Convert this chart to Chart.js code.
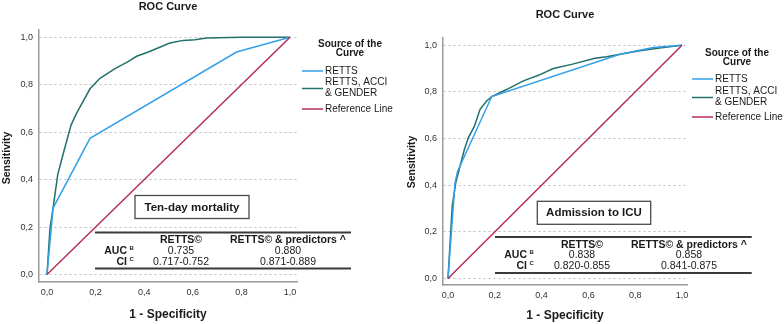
<!DOCTYPE html>
<html><head><meta charset="utf-8">
<script src="https://cdn.jsdelivr.net/npm/chart.js@4/dist/chart.umd.min.js"></script>
<style>
html,body{margin:0;padding:0;background:#fff;width:784px;height:324px;overflow:hidden;}
#wrap{position:relative;width:784px;height:324px;}
canvas{position:absolute;top:0;}
</style></head><body>
<div id="wrap">
<canvas id="c1" width="400" height="324" style="left:0;width:400px;height:324px"></canvas>
<canvas id="c2" width="384" height="324" style="left:400px;width:384px;height:324px"></canvas>
</div>
<script>
// ---- data ----
const tickValues = [0, 0.2, 0.4, 0.6, 0.8, 1.0];
const tickLabels = ['0,0', '0,2', '0,4', '0,6', '0,8', '1,0'];
const seriesNames = ['RETTS', 'RETTS, ACCI & GENDER', 'Reference Line'];
const legendLines = [['RETTS'], ['RETTS, ACCI', '& GENDER'], ['Reference Line']];
const chartTitle = 'ROC Curve';
const xAxisTitle = '1 - Specificity';
const yAxisTitle = 'Sensitivity';
const legendTitle = ['Source of the', 'Curve'];
const panelNames = ['Ten-day mortality', 'Admission to ICU'];
const tableHeader = ['RETTS©', 'RETTS© & predictors ^'];
const tableRowLabels = ['AUC', 'CI'];
const tableRowSup = ['B', 'C'];

const referenceX = [0, 1];
const referenceY = [0, 1];

// Ten-day mortality
const mortalityRettsX = [0, 0.025, 0.177, 0.78, 1];
const mortalityRettsY = [0, 0.28, 0.574, 0.938, 1];
const mortalityCombX = [0, 0.012, 0.026, 0.044, 0.067, 0.099, 0.122, 0.177, 0.218, 0.28, 0.33, 0.369, 0.417, 0.506, 0.56, 0.609, 0.657, 0.8, 1];
const mortalityCombY = [0, 0.19, 0.287, 0.42, 0.51, 0.63, 0.68, 0.783, 0.827, 0.868, 0.895, 0.92, 0.938, 0.976, 0.987, 0.99, 0.997, 1.0, 1];
const mortalityAuc = ['0.735', '0.880'];
const mortalityCi = ['0.717-0.752', '0.871-0.889'];

// Admission to ICU
const icuRettsX = [0, 0.016, 0.03, 0.041, 0.187, 0.735, 0.877, 1];
const icuRettsY = [0, 0.22, 0.41, 0.46, 0.78, 0.961, 0.99, 1];
const icuCombX = [0, 0.018, 0.033, 0.051, 0.07, 0.087, 0.112, 0.137, 0.165, 0.187, 0.25, 0.322, 0.386, 0.45, 0.528, 0.628, 0.678, 0.735, 0.82, 0.92, 1];
const icuCombY = [0, 0.31, 0.41, 0.48, 0.553, 0.604, 0.651, 0.725, 0.761, 0.78, 0.81, 0.847, 0.871, 0.9, 0.918, 0.944, 0.951, 0.961, 0.976, 0.99, 1];
const icuAuc = ['0.838', '0.858'];
const icuCi = ['0.820-0.855', '0.841-0.875'];

// ---- styles ----
const FONT = "'Liberation Sans', Arial, Helvetica, sans-serif";
const BLUE = '#34a0ea';
const GREEN = '#22706a';
const RED = '#b52c5e';
const TEXT = '#1a1a1a';

function pts(xs, ys) { return xs.map((x, i) => ({ x: x, y: ys[i] })); }

function annotPlugin(L) {
  return {
    id: 'annot',
    afterDraw(chart) {
      const ctx = chart.ctx;
      const ca = chart.chartArea;
      ctx.save();
      ctx.fillStyle = TEXT;
      ctx.textBaseline = 'middle';
      ctx.textAlign = 'center';
      ctx.font = 'bold 11px ' + FONT;
      ctx.fillText(chartTitle, (ca.left + ca.right) / 2, L.titleY);
      ctx.font = 'bold 12px ' + FONT;
      ctx.fillText(xAxisTitle, (ca.left + ca.right) / 2, L.xTitleY);
      ctx.save();
      ctx.translate(L.yTitleX, L.yTitleY);
      ctx.rotate(-Math.PI / 2);
      ctx.font = 'bold 10.5px ' + FONT;
      ctx.fillText(yAxisTitle, 0, 0);
      ctx.restore();
      // legend
      const lg = L.legend;
      ctx.font = 'bold 10px ' + FONT;
      ctx.textAlign = 'center';
      ctx.fillText(legendTitle[0], lg.titleX, lg.titleY[0]);
      ctx.fillText(legendTitle[1], lg.titleX, lg.titleY[1]);
      const colors = [BLUE, GREEN, RED];
      ctx.font = '10px ' + FONT;
      ctx.textAlign = 'left';
      legendLines.forEach((lines, i) => {
        ctx.strokeStyle = colors[i];
        ctx.lineWidth = 1.5;
        ctx.beginPath();
        ctx.moveTo(lg.x1, lg.lineY[i]);
        ctx.lineTo(lg.x2, lg.lineY[i]);
        ctx.stroke();
        lines.forEach((t, j) => {
          ctx.fillText(t, lg.x2 + 2, lg.textY[i][j]);
        });
      });
      // box
      const b = L.box;
      ctx.fillStyle = '#fff';
      ctx.fillRect(b.x, b.y, b.w, b.h);
      ctx.strokeStyle = '#4a4a4a';
      ctx.lineWidth = 1.3;
      ctx.strokeRect(b.x, b.y, b.w, b.h);
      ctx.fillStyle = TEXT;
      ctx.font = 'bold 11.5px ' + FONT;
      ctx.textAlign = 'center';
      ctx.fillText(L.panel, b.x + b.w / 2, b.y + b.h / 2 + 0.5);
      // table
      const t = L.table;
      ctx.strokeStyle = '#3a3a3a';
      ctx.lineWidth = 1.8;
      ctx.beginPath();
      ctx.moveTo(t.x1, t.top); ctx.lineTo(t.x2, t.top);
      ctx.moveTo(t.x1, t.bottom); ctx.lineTo(t.x2, t.bottom);
      ctx.stroke();
      ctx.font = 'bold 10.5px ' + FONT;
      ctx.textAlign = 'center';
      ctx.fillText(tableHeader[0], t.col[0], t.rowY[0]);
      ctx.fillText(tableHeader[1], t.col[1], t.rowY[0]);
      const rows = [L.auc, L.ci];
      rows.forEach((r, i) => {
        const y = t.rowY[i + 1];
        ctx.font = 'bold 10.5px ' + FONT;
        ctx.textAlign = 'right';
        ctx.fillText(tableRowLabels[i], t.labelRight, y);
        ctx.font = 'bold 6px ' + FONT;
        ctx.textAlign = 'left';
        ctx.fillText(tableRowSup[i], t.labelRight + 2.5, y - 3);
        ctx.font = '10.5px ' + FONT;
        ctx.textAlign = 'center';
        ctx.fillText(r[0], t.col[0], y);
        ctx.fillText(r[1], t.col[1], y);
      });
      ctx.restore();
    }
  };
}

function makeChart(id, S, L) {
  const ctx = document.getElementById(id).getContext('2d');
  return new Chart(ctx, {
    type: 'scatter',
    data: {
      datasets: [
        { label: seriesNames[2], data: pts(referenceX, referenceY), borderColor: RED, showLine: true },
        { label: seriesNames[0], data: pts(S.rettsX, S.rettsY), borderColor: BLUE, showLine: true },
        { label: seriesNames[1], data: pts(S.combX, S.combY), borderColor: GREEN, showLine: true }
      ]
    },
    options: {
      responsive: false,
      animation: false,
      events: [],
      layout: { padding: L.padding },
      elements: { point: { radius: 0 }, line: { tension: 0, borderWidth: 1.5, fill: false } },
      plugins: { legend: { display: false }, tooltip: { enabled: false }, title: { display: false } },
      scales: {
        x: {
          type: 'linear', min: L.xMin, max: L.xMax,
          afterBuildTicks: s => { s.ticks = tickValues.map(v => ({ value: v })); },
          afterFit: s => { s.height = L.xAxisH; },
          ticks: { callback: (v, i) => tickLabels[i], font: { family: FONT, size: 9 }, color: '#333', padding: L.xTickPad, maxRotation: 0, autoSkip: false },
          grid: { display: false, drawTicks: false },
          border: { display: true, color: '#9a9a9a', width: 1.5 }
        },
        y: {
          type: 'linear', min: L.yMin, max: L.yMax,
          afterBuildTicks: s => { s.ticks = tickValues.map(v => ({ value: v })); },
          afterFit: s => { s.width = L.yAxisW; },
          ticks: { callback: (v, i) => tickLabels[i], font: { family: FONT, size: 9 }, color: '#333', padding: 6, autoSkip: false },
          grid: { color: '#bdbdbd', lineWidth: 1, drawTicks: false },
          border: { display: true, color: '#9a9a9a', width: 1.5, dash: [2, 3] }
        }
      }
    },
    plugins: [annotPlugin(L)]
  });
}

makeChart('c1',
  { rettsX: mortalityRettsX, rettsY: mortalityRettsY, combX: mortalityCombX, combY: mortalityCombY },
  {
    padding: { left: 0, top: 30, right: 103, bottom: 0 },
    yAxisW: 39, xAxisH: 42, xTickPad: 5,
    xMin: -0.0329, xMax: 1.0288, yMin: -0.0316, yMax: 1.0308,
    titleY: 7, xTitleY: 315, yTitleX: 7, yTitleY: 158,
    legend: { titleX: 350, titleY: [44, 53], x1: 302, x2: 323, lineY: [71, 88.5, 109], textY: [[71], [82.5, 93.5], [109]] },
    box: { x: 135, y: 195.5, w: 114, h: 23 },
    panel: panelNames[0],
    table: { x1: 95, x2: 351, top: 232.5, bottom: 268.5, rowY: [240, 251, 262], col: [181, 288], labelRight: 127 },
    auc: mortalityAuc, ci: mortalityCi
  });

makeChart('c2',
  { rettsX: icuRettsX, rettsY: icuRettsY, combX: icuCombX, combY: icuCombY },
  {
    padding: { left: 0, top: 38, right: 97, bottom: 0 },
    yAxisW: 43, xAxisH: 39, xTickPad: 5.5,
    xMin: -0.0214, xMax: 1.0214, yMin: -0.028, yMax: 1.031,
    titleY: 15, xTitleY: 316, yTitleX: 12, yTitleY: 162,
    legend: { titleX: 337, titleY: [53, 62], x1: 292, x2: 313, lineY: [79, 97.5, 117], textY: [[79], [91, 102], [117]] },
    box: { x: 137.3, y: 201.3, w: 113.4, h: 23 },
    panel: panelNames[1],
    table: { x1: 95, x2: 351.7, top: 237, bottom: 273, rowY: [245, 255.5, 266.5], col: [182, 289], labelRight: 127 },
    auc: icuAuc, ci: icuCi
  });
</script>
</body></html>
